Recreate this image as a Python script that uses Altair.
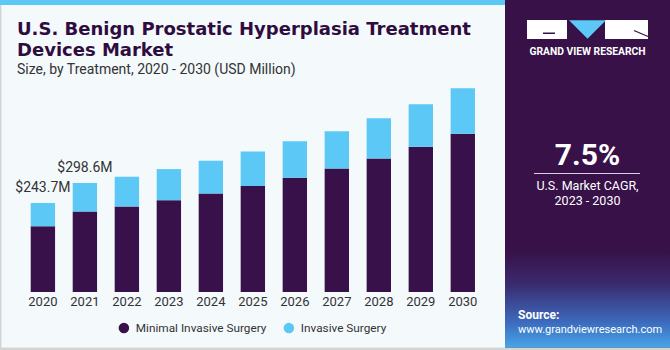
import altair as alt
import pandas as pd

# ---- data ----
years = ["2020", "2021", "2022", "2023", "2024", "2025", "2026", "2027", "2028", "2029", "2030"]
minimal = [180.3, 220.5, 234.2, 251.6, 269.9, 290.1, 312.9, 338.6, 366.0, 398.0, 433.7]
invasive = [63.4, 78.1, 81.5, 85.1, 89.7, 95.1, 99.8, 101.5, 109.8, 116.2, 124.5]
segments = ["Minimal Invasive Surgery", "Invasive Surgery"]
seg_colors = ["#38104a", "#5bc8f5"]
label_years = ["2020", "2021"]
label_values = [243.7, 298.6]
label_texts = ["$243.7M", "$298.6M"]

rows = []
for i, yr in enumerate(years):
    rows.append({"year": yr, "segment": segments[0], "value": minimal[i], "ord": 0})
    rows.append({"year": yr, "segment": segments[1], "value": invasive[i], "ord": 1})
bars_df = pd.DataFrame(rows)
labels_df = pd.DataFrame({"year": label_years, "total": label_values, "text": label_texts})
one = pd.DataFrame({"a": [0]})

FONT = "Roboto"
TEXT_DARK = "#333333"
PURPLE = "#371148"

x_scale = alt.Scale(domain=years, range=[21.9, 483.8], paddingInner=0.42, paddingOuter=0.21)
y_scale = alt.Scale(domain=[0, 600], range=[292, 73], nice=False, zero=True)


def rect(x1, x2, y1, y2, color, **kw):
    return alt.Chart(one).mark_rect(color=color, **kw).encode(
        x=alt.value(x1), x2=alt.value(x2), y=alt.value(y1), y2=alt.value(y2))


def seg(x1, y1, x2, y2, color, width=1):
    return alt.Chart(one).mark_rule(color=color, strokeWidth=width).encode(
        x=alt.value(x1), y=alt.value(y1), x2=alt.value(x2), y2=alt.value(y2))


def txt(s, x, y, size, color, weight="normal", align="left", font=FONT):
    return alt.Chart(one).mark_text(
        text=s, align=align, baseline="alphabetic", font=font,
        fontSize=size, fontWeight=weight, color=color).encode(
        x=alt.value(x), y=alt.value(y))


# background pieces
bg_layers = [
    rect(0, 505, 0, 5, "#5bc8f5"),
    rect(0, 1.5, 5, 350, "#d4d4d4"),
    rect(0, 670, 347.5, 350, "#d4d4d4"),
    rect(505, 670, 0, 347.5, PURPLE),
    rect(505, 670, 250, 347.5, alt.Gradient(
        gradient="linear", x1=0, x2=0, y1=0, y2=1,
        stops=[alt.GradientStop(color=PURPLE, offset=0),
               alt.GradientStop(color="#3a2a6e", offset=0.35),
               alt.GradientStop(color="#3d6cbf", offset=0.75),
               alt.GradientStop(color="#45a6e6", offset=1)])),
]

# bars
bars = alt.Chart(bars_df).mark_bar().encode(
    x=alt.X("year:N", scale=x_scale, sort=years,
            axis=alt.Axis(title=None, labelAngle=0, domain=False, ticks=False, tickSize=0,
                          labelFont=FONT, labelFontSize=13, labelColor=TEXT_DARK,
                          labelPadding=3, offset=-58, grid=False)),
    y=alt.Y("value:Q", stack="zero", scale=y_scale, axis=None),
    color=alt.Color("segment:N", scale=alt.Scale(domain=segments, range=seg_colors),
                    legend=alt.Legend(orient="none", legendX=118, legendY=322,
                                      direction="horizontal", title=None,
                                      symbolType="circle", symbolSize=110,
                                      symbolStrokeWidth=0, labelFont=FONT,
                                      labelFontSize=11.8, labelColor=TEXT_DARK,
                                      columnPadding=16, labelOffset=6)),
    order=alt.Order("ord:Q"),
)

value_labels = alt.Chart(labels_df).mark_text(
    font=FONT, fontSize=14, color=TEXT_DARK, baseline="alphabetic", dy=-11
).encode(
    x=alt.X("year:N", scale=x_scale, sort=years),
    y=alt.Y("total:Q", scale=y_scale),
    text="text:N",
)

# title texts
TITLE_FONT = "DejaVu Sans"
title_layers = [
    txt("U.S. Benign Prostatic Hyperplasia Treatment", 17, 35, 18, "#2f0c40", weight="bold", font=TITLE_FONT),
    txt("Devices Market", 17, 56, 18, "#2f0c40", weight="bold", font=TITLE_FONT),
    txt("Size, by Treatment, 2020 - 2030 (USD Million)", 17, 74, 14, TEXT_DARK),
]

# right panel content
panel_layers = [
    rect(527, 567, 20, 39, "white"),
    rect(543, 555, 32.5, 34, PURPLE),
    rect(605, 648, 20, 39, "white"),
    seg(634, 30.5, 648, 36.5, PURPLE, 1.3),
    alt.Chart(one).mark_point(shape="M-1,-0.5L1,-0.5L0,0.5Z", filled=True, size=1369,
                              color="#5bc8f5", opacity=1, strokeWidth=0).encode(
        x=alt.value(587.5), y=alt.value(29.5)),
    txt("GRAND VIEW RESEARCH", 587.5, 55, 10.3, "white", weight="bold", align="center"),
    txt("7.5%", 587.5, 165, 30, "white", weight="bold", align="center"),
    rect(534, 640, 173, 174, "#d8d0e0"),
    txt("U.S. Market CAGR,", 587.5, 190, 12.5, "white", align="center"),
    txt("2023 - 2030", 587.5, 204.5, 12.5, "white", align="center"),
    txt("Source:", 518, 319, 12, "white", weight="bold"),
    txt("www.grandviewresearch.com", 518, 333, 11, "white"),
]

chart = alt.layer(
    *bg_layers, bars, value_labels, *title_layers, *panel_layers
).properties(
    width=670, height=350,
    autosize=alt.AutoSizeParams(type="none"),
    padding=0,
    background="#f4f9fc",
).configure_view(stroke=None)

chart.save("out.html", embed_options={"renderer": "svg", "actions": False})
